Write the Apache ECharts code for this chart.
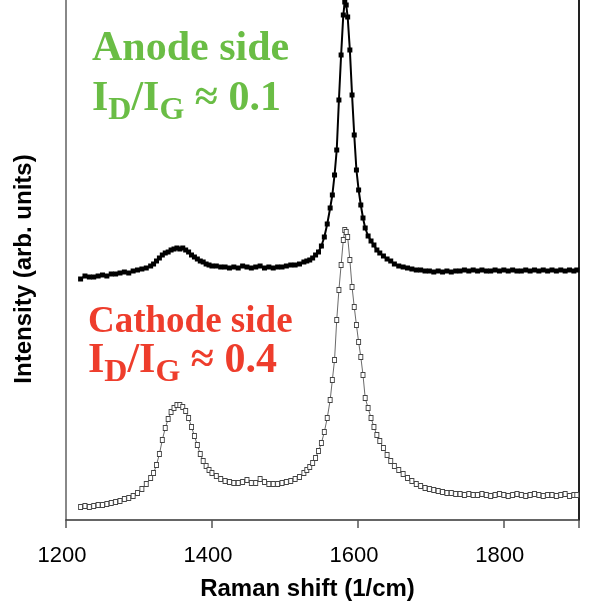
<!DOCTYPE html>
<html>
<head>
<meta charset="utf-8">
<script src="https://cdn.jsdelivr.net/npm/echarts@6/dist/echarts.min.js"></script>
<style>
  html, body { margin: 0; padding: 0; background: #fff; }
  #chart { width: 595px; height: 606px; }
</style>
</head>
<body>
<div id="chart"></div>
<script>
// Raman shift (1/cm) - shared x positions of both spectra
var shift = [
  1220, 1226, 1232, 1238, 1244, 1250, 1256, 1262, 1268, 1274, 1280, 1286, 1292, 1298, 1304, 1310, 1316,
  1320, 1324, 1328, 1332, 1336, 1340, 1344, 1348, 1352, 1356, 1360, 1364, 1368, 1372, 1376, 1380, 1384, 1388, 1392, 1396, 1400,
  1406, 1412, 1418, 1424, 1430, 1436, 1442, 1448, 1454, 1460, 1466, 1472, 1478, 1484, 1490, 1496, 1502, 1508, 1514, 1520, 1526,
  1530, 1534, 1538, 1542, 1546, 1550, 1554, 1558, 1562,
  1565, 1568, 1571, 1574, 1577, 1580,
  1582, 1584, 1586,
  1589, 1592, 1595, 1598, 1601, 1604, 1607, 1610,
  1614, 1618, 1622, 1626, 1630,
  1635, 1640, 1645, 1650,
  1656, 1662, 1668, 1674, 1680, 1686, 1692, 1698, 1704, 1710, 1716, 1722, 1728, 1734, 1740, 1746, 1752, 1758, 1764, 1770,
  1776, 1782, 1788, 1794, 1800, 1806, 1812, 1818, 1824, 1830, 1836, 1842, 1848, 1854, 1860, 1866, 1872, 1878, 1884, 1890, 1896,
  1900
];

// anode side spectrum (offset upwards)
var anode = [
  241, 244, 243, 243, 244, 245, 244, 246, 246, 247, 248, 247, 249, 250, 251, 252, 254,
  256, 259, 262, 265, 267, 268, 270, 271, 272, 271, 272, 270, 268, 265, 263, 261, 259, 258, 256, 255, 254,
  254, 253, 253, 252, 253, 252, 254, 253, 252, 253, 254, 252, 253, 252, 253, 253, 254, 255, 255, 256, 258,
  259, 260, 262, 265, 268, 274, 283, 296, 312,
  325, 345, 370, 420, 465, 505,
  518, 515, 503,
  470, 425, 385, 350, 330, 315, 302, 292,
  284, 279, 275, 270, 267,
  264, 261, 259, 256,
  254, 253, 252, 251, 250, 250, 249, 249, 248, 249, 248, 249, 248, 249, 249, 250, 249, 250, 249, 250,
  249, 249, 250, 249, 250, 249, 250, 249, 249, 250, 249, 250, 249, 250, 249, 250, 249, 250, 249, 250, 249,
  250
];

// cathode side spectrum
var cathode = [
  13, 14, 13, 14, 15, 15, 16, 17, 18, 19, 21, 22, 24, 27, 31, 36, 42,
  47, 55, 66, 80, 92, 101, 108, 112, 115, 115, 113, 109, 102, 93, 84, 75, 66, 59, 54, 50, 47,
  44, 41, 39, 38, 37, 37, 38, 40, 37, 37, 41, 38, 36, 36, 36, 37, 38, 39, 41, 43, 47,
  50, 53, 57, 62, 69, 77, 88, 102, 120,
  140, 160, 200, 230, 255, 280,
  290, 288, 283,
  260, 233, 213, 195, 178, 163, 145, 122,
  112, 102, 93, 85, 79,
  72, 65, 59, 54,
  50, 46, 42, 39, 36, 34, 32, 31, 30, 29, 28, 27, 27, 26, 26, 25, 26, 25, 25, 26,
  25, 24, 25, 26, 25, 24, 25, 26, 25, 24, 25, 26, 25, 24, 25, 25, 24, 25, 26, 24, 25,
  25
];

var xTicks = [1200, 1400, 1600, 1800];

function pairs(ys) {
  return shift.map(function (x, i) { return [x, ys[i]]; });
}

var myChart = echarts.init(document.getElementById("chart"));

var serif = "'Liberation Serif', 'Times New Roman', serif";
var sans = "'Liberation Sans', Arial, sans-serif";
var green = "#6abd45";
var red = "#ee3d2c";

// I_D/I_G ≈ value, with subscripts
function ratioLabel(val, color, left, top) {
  return {
    type: "text",
    left: left,
    top: top,
    style: {
      text: "{a|I}{s|D}{a|/I}{s|G}{a| \u2248 " + val + "}",
      rich: {
        a: { fontFamily: serif, fontWeight: "bold", fontSize: 42, fill: color, verticalAlign: "top", lineHeight: 48 },
        s: { fontFamily: serif, fontWeight: "bold", fontSize: 32, fill: color, verticalAlign: "top", padding: [17, 0, 0, 0], lineHeight: 36 }
      }
    }
  };
}

function headLabel(txt, color, size, left, top) {
  return {
    type: "text",
    left: left,
    top: top,
    style: {
      text: txt,
      fill: color,
      font: "bold " + size + "px " + serif,
      lineHeight: size + 6
    }
  };
}

option = {
  animation: false,
  grid: {
    left: 66,
    right: 16,
    top: 0,
    bottom: 86
  },
  xAxis: {
    type: "value",
    min: 1200,
    max: 1903,
    interval: 200,
    name: "Raman shift (1/cm)",
    nameLocation: "middle",
    nameGap: 57,
    nameTextStyle: {
      fontFamily: sans,
      fontWeight: "bold",
      fontSize: 24,
      color: "#000",
      padding: [0, 30, 0, 0]
    },
    axisLine: {
      lineStyle: { color: "#333", width: 1.5 }
    },
    axisTick: {
      inside: false,
      length: 8,
      lineStyle: { color: "#555", width: 1.5 }
    },
    axisLabel: {
      margin: 25,
      fontFamily: sans,
      fontSize: 22,
      color: "#000",
      padding: [0, 8, 0, 0],
      formatter: function (v) {
        return xTicks.indexOf(v) >= 0 ? String(v) : "";
      }
    },
    splitLine: { show: false }
  },
  yAxis: [
    {
      type: "value",
      min: 0,
      max: 520,
      name: "Intensity (arb. units)",
      nameLocation: "middle",
      nameGap: 30,
      nameTextStyle: {
        fontFamily: sans,
        fontWeight: "bold",
        fontSize: 24,
        color: "#000",
        padding: [0, 18, 0, 0]
      },
      axisLine: {
        show: true,
        lineStyle: { color: "#888", width: 2 }
      },
      axisTick: { show: false },
      axisLabel: { show: false },
      splitLine: { show: false }
    },
    {
      type: "value",
      min: 0,
      max: 520,
      position: "right",
      axisLine: {
        show: true,
        lineStyle: { color: "#222", width: 2 }
      },
      axisTick: { show: false },
      axisLabel: { show: false },
      splitLine: { show: false }
    }
  ],
  graphic: [
    headLabel("Anode side", green, 42, 92, 25),
    ratioLabel("0.1", green, 92, 78),
    headLabel("Cathode side", red, 37, 88, 301),
    ratioLabel("0.4", red, 88, 340)
  ],
  series: [
    {
      name: "Anode",
      type: "line",
      data: pairs(anode),
      symbol: "rect",
      symbolSize: 5,
      showSymbol: true,
      showAllSymbol: true,
      itemStyle: { color: "#000" },
      lineStyle: { color: "#000", width: 2 }
    },
    {
      name: "Cathode",
      type: "line",
      data: pairs(cathode),
      symbol: "rect",
      symbolSize: [4, 5],
      showSymbol: true,
      showAllSymbol: true,
      itemStyle: { color: "#fff", borderColor: "#444", borderWidth: 1 },
      lineStyle: { color: "#444", width: 0.8 }
    }
  ]
};

myChart.setOption(option);
</script>
</body>
</html>
